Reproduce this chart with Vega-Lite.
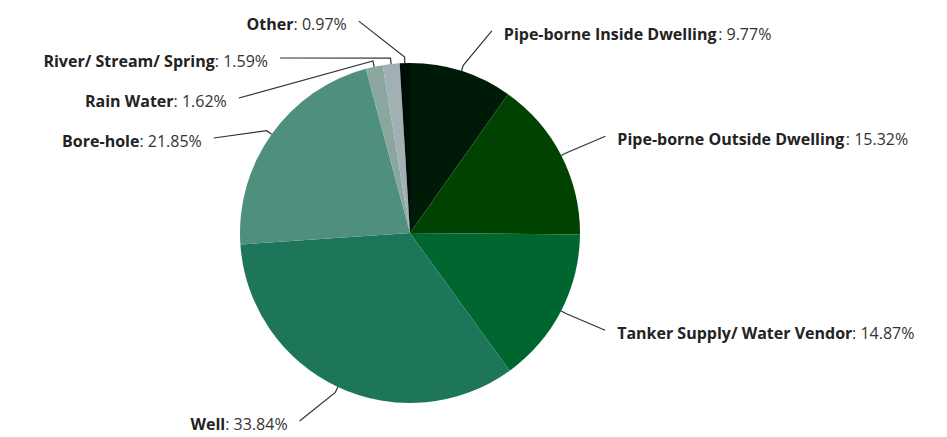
{
  "$schema": "https://vega.github.io/schema/vega-lite/v6.json",
  "width": 947,
  "height": 437,
  "padding": 0,
  "autosize": {"type": "none"},
  "background": "white",
  "config": {"view": {"stroke": null}},
  "data": {
    "values": [
      {"name": "Pipe-borne Inside Dwelling", "value": 9.77},
      {"name": "Pipe-borne Outside Dwelling", "value": 15.32},
      {"name": "Tanker Supply/ Water Vendor", "value": 14.87},
      {"name": "Well", "value": 33.84},
      {"name": "Bore-hole", "value": 21.85},
      {"name": "Rain Water", "value": 1.62},
      {"name": "River/ Stream/ Spring", "value": 1.59},
      {"name": "Other", "value": 0.97}
    ]
  },
  "transform": [
    {"window": [{"op": "sum", "field": "value", "as": "cum"}], "frame": [null, 0]},
    {"joinaggregate": [{"op": "sum", "field": "value", "as": "total"}]},
    {"calculate": "(datum.cum - datum.value) / datum.total * 2 * PI", "as": "a0"},
    {"calculate": "datum.cum / datum.total * 2 * PI", "as": "a1"},
    {"calculate": "(datum.a0 + datum.a1) / 2", "as": "mid"},
    {"calculate": "sin(datum.mid) >= 0 ? 'right' : 'left'", "as": "side"},
    {"calculate": "datum.side === 'right' ? datum.mid : -datum.mid", "as": "sk"},
    {"window": [{"op": "row_number", "as": "rn"}], "groupby": ["side"], "sort": [{"field": "sk"}]},
    {"calculate": "min(188, max(-212 * cos(datum.mid), -215 + 40 * (datum.rn - 1)))", "as": "ly"},
    {"calculate": "(datum.side === 'right' ? 1 : -1) * sqrt(max(0, 218 * 218 - datum.ly * datum.ly))", "as": "lx"},
    {"calculate": "': ' + format(datum.value, '.2f') + '%'", "as": "vtext"}
  ],
  "layer": [
    {
      "mark": {"type": "arc", "radius": 170, "stroke": null},
      "encoding": {
        "theta": {"field": "a0", "type": "quantitative", "stack": null, "scale": {"domain": [0, 6.283185307179586], "range": [0, 6.283185307179586]}},
        "theta2": {"field": "a1"},
        "x": {"datum": 0, "type": "quantitative", "scale": {"domain": [-410, 537], "nice": false, "zero": false}, "axis": null},
        "y": {"datum": 0, "type": "quantitative", "scale": {"domain": [-233, 204], "nice": false, "zero": false, "reverse": true}, "axis": null},
        "color": {
          "field": "name",
          "type": "nominal",
          "scale": {
            "domain": ["Pipe-borne Inside Dwelling", "Pipe-borne Outside Dwelling", "Tanker Supply/ Water Vendor", "Well", "Bore-hole", "Rain Water", "River/ Stream/ Spring", "Other"],
            "range": ["#001a08", "#004200", "#00662f", "#1e765a", "#4e8f7e", "#8aa79f", "#a2afb3", "#000d05"]
          },
          "legend": null
        }
      }
    },
    {
      "transform": [
        {"calculate": "[{k: 0, x: datum.lx, y: datum.ly}, {k: 1, x: 176 * sin(datum.mid), y: -176 * cos(datum.mid)}, {k: 2, x: 170 * sin(datum.mid), y: -170 * cos(datum.mid)}]", "as": "pts"},
        {"flatten": ["pts"]},
        {"calculate": "datum.pts.x", "as": "px"},
        {"calculate": "datum.pts.y", "as": "py"},
        {"calculate": "datum.pts.k", "as": "pk"}
      ],
      "mark": {"type": "line", "stroke": "#333333", "strokeWidth": 1.2, "interpolate": "linear"},
      "encoding": {
        "x": {"field": "px", "type": "quantitative", "scale": {"domain": [-410, 537], "nice": false, "zero": false}, "axis": null},
        "y": {"field": "py", "type": "quantitative", "scale": {"domain": [-233, 204], "nice": false, "zero": false, "reverse": true}, "axis": null},
        "detail": {"field": "name"},
        "order": {"field": "pk", "type": "quantitative"}
      }
    },
    {
      "transform": [{"filter": "datum.side === 'right'"}],
      "mark": {"type": "text", "align": "left", "baseline": "middle", "dx": 12, "dy": 4, "font": "Open Sans", "fontSize": 16, "fontWeight": "bold", "fill": "#222222"},
      "encoding": {
        "x": {"field": "lx", "type": "quantitative", "scale": {"domain": [-410, 537], "nice": false, "zero": false}, "axis": null},
        "y": {"field": "ly", "type": "quantitative", "scale": {"domain": [-233, 204], "nice": false, "zero": false, "reverse": true}, "axis": null},
        "text": {"field": "name"}
      }
    },
    {
      "transform": [
        {"filter": "datum.side === 'right'"},
        {"calculate": "length(replace(datum.name, regexp('[^ilIj]', 'g'), ''))", "as": "cn"},
        {"calculate": "length(replace(datum.name, regexp('[^ ]', 'g'), ''))", "as": "cs"},
        {"calculate": "length(replace(datum.name, regexp('[^rtf/-]', 'g'), ''))", "as": "cr"},
        {"calculate": "length(replace(datum.name, regexp('[^s]', 'g'), ''))", "as": "css"},
        {"calculate": "length(replace(datum.name, regexp('[^wm]', 'g'), ''))", "as": "cw"},
        {"calculate": "length(replace(datum.name, regexp('[^WM]', 'g'), ''))", "as": "cW"},
        {"calculate": "length(replace(datum.name, regexp('[^OQDG]', 'g'), ''))", "as": "cO"},
        {"calculate": "length(replace(datum.name, regexp('[^ABCEFHJ-LNPR-VX-Z]', 'g'), ''))", "as": "cC"},
        {"calculate": "length(datum.name) - datum.cn - datum.cs - datum.cr - datum.css - datum.cw - datum.cW - datum.cO - datum.cC", "as": "crest"},
        {"calculate": "datum.lx + 6 + 16 * (0.29 * datum.cn + 0.26 * datum.cs + 0.41 * datum.cr + 0.49 * datum.css + 0.86 * datum.cw + 0.9 * datum.cW + 0.76 * datum.cO + 0.63 * datum.cC + 0.6 * datum.crest)", "as": "vx"}
      ],
      "mark": {"type": "text", "align": "left", "baseline": "middle", "dx": 12, "dy": 4, "font": "Open Sans", "fontSize": 16, "fill": "#333333"},
      "encoding": {
        "x": {"field": "vx", "type": "quantitative", "scale": {"domain": [-410, 537], "nice": false, "zero": false}, "axis": null},
        "y": {"field": "ly", "type": "quantitative", "scale": {"domain": [-233, 204], "nice": false, "zero": false, "reverse": true}, "axis": null},
        "text": {"field": "vtext"}
      }
    },
    {
      "transform": [{"filter": "datum.side === 'left'"}],
      "mark": {"type": "text", "align": "right", "baseline": "middle", "dx": -12, "dy": 4, "font": "Open Sans", "fontSize": 16, "fill": "#333333"},
      "encoding": {
        "x": {"field": "lx", "type": "quantitative", "scale": {"domain": [-410, 537], "nice": false, "zero": false}, "axis": null},
        "y": {"field": "ly", "type": "quantitative", "scale": {"domain": [-233, 204], "nice": false, "zero": false, "reverse": true}, "axis": null},
        "text": {"field": "vtext"}
      }
    },
    {
      "transform": [
        {"filter": "datum.side === 'left'"},
        {"calculate": "datum.lx - 16 * (1.62 + 0.57 * (length(format(datum.value, '.2f')) - 1))", "as": "nx"}
      ],
      "mark": {"type": "text", "align": "right", "baseline": "middle", "dx": -12, "dy": 4, "font": "Open Sans", "fontSize": 16, "fontWeight": "bold", "fill": "#222222"},
      "encoding": {
        "x": {"field": "nx", "type": "quantitative", "scale": {"domain": [-410, 537], "nice": false, "zero": false}, "axis": null},
        "y": {"field": "ly", "type": "quantitative", "scale": {"domain": [-233, 204], "nice": false, "zero": false, "reverse": true}, "axis": null},
        "text": {"field": "name"}
      }
    }
  ]
}
